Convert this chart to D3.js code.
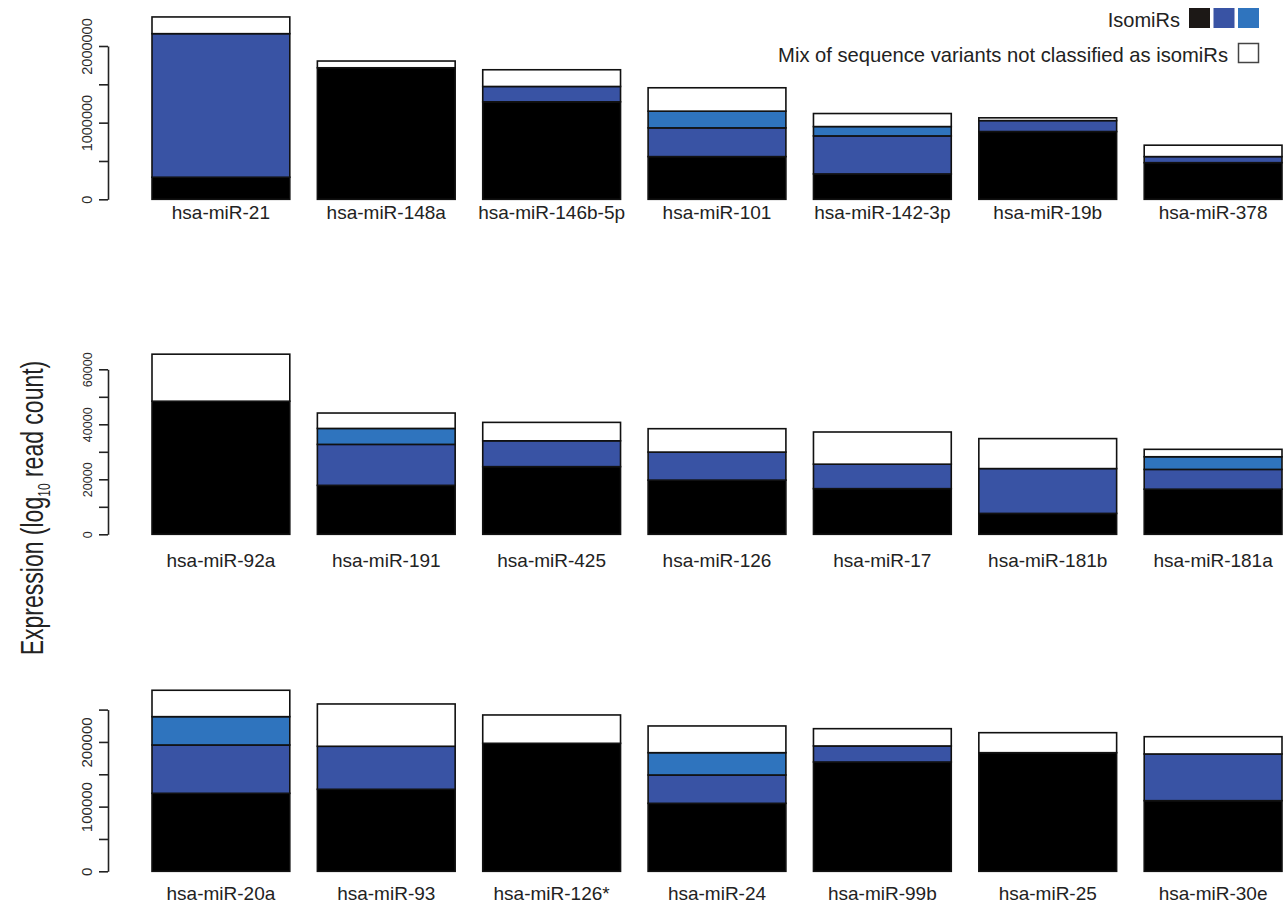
<!DOCTYPE html>
<html>
<head>
<meta charset="utf-8">
<script src="https://cdn.jsdelivr.net/npm/d3@7"></script>
<style>
    body { margin: 0; background: #fff; }
    svg { display: block; font-family: "Liberation Sans", Arial, sans-serif; }
</style>
</head>
<body>
<div class="canvas"></div>
<script>
// ---- data (segment heights, bottom to top) ----
const topCategories = ["hsa-miR-21", "hsa-miR-148a", "hsa-miR-146b-5p", "hsa-miR-101", "hsa-miR-142-3p", "hsa-miR-19b", "hsa-miR-378"];
const topBlack = [288000, 1716000, 1272000, 557000, 331000, 884000, 478000];
const topDarkBlue = [1873000, 0, 200000, 375000, 496000, 143000, 79000];
const topLightBlue = [0, 0, 0, 218000, 122000, 0, 0];
const topMix = [218000, 88000, 218000, 305000, 170000, 36000, 149000];
const topTicks = [0, 500000, 1000000, 1500000, 2000000];
const topTickLabels = [0, 1000000, 2000000];

const midCategories = ["hsa-miR-92a", "hsa-miR-191", "hsa-miR-425", "hsa-miR-126", "hsa-miR-17", "hsa-miR-181b", "hsa-miR-181a"];
const midBlack = [48400, 17800, 24600, 19700, 16600, 7600, 16400];
const midDarkBlue = [0, 14900, 9400, 10200, 8900, 16300, 7200];
const midLightBlue = [0, 5800, 0, 0, 0, 0, 4600];
const midMix = [17100, 5600, 6700, 8500, 11700, 10900, 2700];
const midTicks = [0, 10000, 20000, 30000, 40000, 50000, 60000];
const midTickLabels = [0, 20000, 40000, 60000];

const botCategories = ["hsa-miR-20a", "hsa-miR-93", "hsa-miR-126*", "hsa-miR-24", "hsa-miR-99b", "hsa-miR-25", "hsa-miR-30e"];
const botBlack = [120600, 126800, 197900, 105100, 169000, 183400, 109200];
const botDarkBlue = [74700, 66500, 0, 43800, 24800, 0, 72200];
const botLightBlue = [43800, 0, 0, 34500, 0, 0, 0];
const botMix = [40800, 65400, 43800, 41300, 26700, 30900, 26700];
const botTicks = [0, 50000, 100000, 150000, 200000, 250000];
const botTickLabels = [0, 100000, 200000];

const seriesKeys = ["black", "darkBlue", "lightBlue", "mix"];
const seriesColors = {black: "#000000", darkBlue: "#3953a4", lightBlue: "#2f74be", mix: "#ffffff"};

const width = 1288, height = 910;

const svg = d3.select(".canvas").append("svg")
    .attr("width", width)
    .attr("height", height);

class StackedBarPanel {
    constructor(svg, spec, data) {
        this.svg = svg;
        this.spec = spec;
        this.data = data;
        this.group = svg.append("g");
        this.x = d3.scaleBand()
            .domain(data.categories)
            .range([152, 1282])
            .paddingInner(0.1667)
            .paddingOuter(0);
        this.y = d3.scaleLinear()
            .domain([0, d3.max(data.ticks)])
            .range([spec.baseY, spec.topTickY]);

        this.addBars();
        this.addYAxis();
        this.addLabels();
    }

    addBars() {
        const rows = this.data.categories.map((c, i) => ({
            category: c,
            black: this.data.black[i],
            darkBlue: this.data.darkBlue[i],
            lightBlue: this.data.lightBlue[i],
            mix: this.data.mix[i]
        }));
        const stacked = d3.stack().keys(seriesKeys)(rows);

        this.group.selectAll("g.series")
            .data(stacked)
            .enter()
            .append("g")
            .attr("class", "series")
            .attr("fill", d => seriesColors[d.key])
            .selectAll("rect")
            .data(d => d.filter(s => s[1] - s[0] > 0))
            .enter()
            .append("rect")
            .attr("x", d => this.x(d.data.category))
            .attr("width", this.x.bandwidth())
            .attr("y", d => this.y(d[1]))
            .attr("height", d => this.y(d[0]) - this.y(d[1]))
            .attr("stroke", "#111")
            .attr("stroke-width", 1.6);
    }

    addYAxis() {
        const labelled = new Set(this.data.tickLabels);
        const axis = d3.axisLeft(this.y)
            .tickValues(this.data.ticks)
            .tickSize(9)
            .tickSizeOuter(0)
            .tickFormat(d => labelled.has(d) ? d3.format("d")(d) : "");

        const axisGroup = this.group.append("g")
            .attr("transform", "translate(108,0)")
            .call(axis);

        axisGroup.select(".domain").attr("stroke", "#222").attr("stroke-width", 1.6);
        axisGroup.selectAll(".tick line").attr("stroke", "#222").attr("stroke-width", 1.6);
        axisGroup.selectAll(".tick text")
            .attr("x", null)
            .attr("dy", null)
            .attr("transform", "translate(-16,0) rotate(-90)")
            .attr("text-anchor", "middle")
            .attr("fill", "#2a2a2a")
            .style("font-family", "Liberation Sans, Arial, sans-serif")
            .style("font-size", this.spec.tickFont + "px");
    }

    addLabels() {
        this.group.selectAll("text.cat")
            .data(this.data.categories)
            .enter()
            .append("text")
            .attr("class", "cat")
            .attr("x", d => this.x(d) + this.x.bandwidth() / 2)
            .attr("y", this.spec.labelY)
            .attr("text-anchor", "middle")
            .attr("fill", "#222")
            .style("font-size", "19px")
            .text(d => d);
    }
}

new StackedBarPanel(svg, {baseY: 199.3, topTickY: 46, labelY: 219, tickFont: 14.5}, {
    categories: topCategories, black: topBlack, darkBlue: topDarkBlue,
    lightBlue: topLightBlue, mix: topMix, ticks: topTicks, tickLabels: topTickLabels
});
new StackedBarPanel(svg, {baseY: 534.3, topTickY: 369.3, labelY: 567, tickFont: 12.5}, {
    categories: midCategories, black: midBlack, darkBlue: midDarkBlue,
    lightBlue: midLightBlue, mix: midMix, ticks: midTicks, tickLabels: midTickLabels
});
new StackedBarPanel(svg, {baseY: 871.3, topTickY: 709.6, labelY: 900, tickFont: 15}, {
    categories: botCategories, black: botBlack, darkBlue: botDarkBlue,
    lightBlue: botLightBlue, mix: botMix, ticks: botTicks, tickLabels: botTickLabels
});

// y axis title (the figure's lettering is a little stretched across the axis)
const yTitle = svg.append("text")
    .attr("transform", "translate(43,508) rotate(-90) scale(1,1.35)")
    .attr("text-anchor", "middle")
    .attr("fill", "#222")
    .style("font-size", "23px");
yTitle.append("tspan").text("Expression (log");
yTitle.append("tspan").attr("dy", 5).style("font-size", "12px").text("10");
yTitle.append("tspan").attr("dy", -5).text(" read count)");

// legend
const legend = svg.append("g");
legend.append("text")
    .attr("x", 1180).attr("y", 27)
    .attr("text-anchor", "end")
    .attr("fill", "#222")
    .style("font-size", "20px")
    .text("IsomiRs");
const isoKeys = ["black", "darkBlue", "lightBlue"];
legend.selectAll("rect.iso")
    .data(isoKeys)
    .enter()
    .append("rect")
    .attr("class", "iso")
    .attr("x", (d, i) => 1189 + i * 24.5)
    .attr("y", 8)
    .attr("width", 21)
    .attr("height", 20)
    .attr("fill", d => d === "black" ? "#1c1816" : seriesColors[d]);
legend.append("text")
    .attr("x", 1228).attr("y", 62)
    .attr("text-anchor", "end")
    .attr("fill", "#222")
    .style("font-size", "20.2px")
    .text("Mix of sequence variants not classified as isomiRs");
legend.append("rect")
    .attr("x", 1238.5).attr("y", 43.5)
    .attr("width", 20).attr("height", 19)
    .attr("fill", "#fff")
    .attr("stroke", "#444")
    .attr("stroke-width", 1.5);
</script>
</body>
</html>
